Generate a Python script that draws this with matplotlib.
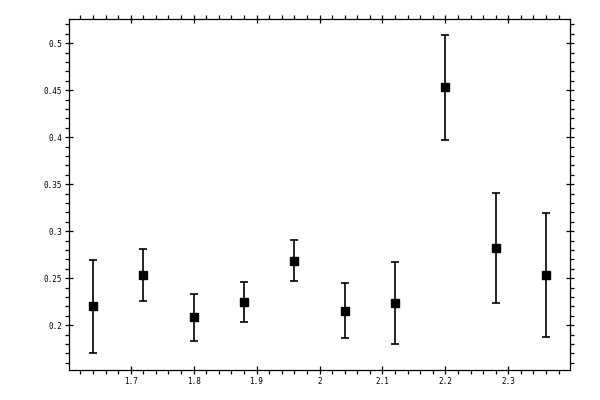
import matplotlib
matplotlib.use("Agg")
import matplotlib.pyplot as plt
from matplotlib.ticker import MultipleLocator, FuncFormatter
import numpy as np

x = [1.64, 1.72, 1.80, 1.88, 1.96, 2.04, 2.12, 2.20, 2.28, 2.36]
y = [0.220, 0.253, 0.2085, 0.2245, 0.268, 0.215, 0.2235, 0.4532, 0.282, 0.253]
y_low = [0.170, 0.2255, 0.1833, 0.2035, 0.2468, 0.1862, 0.1798, 0.3968, 0.2234, 0.1872]
y_high = [0.269, 0.2815, 0.233, 0.2457, 0.2904, 0.2447, 0.267, 0.5085, 0.3404, 0.3191]

y_arr = np.array(y)
yerr = [y_arr - np.array(y_low), np.array(y_high) - y_arr]

fig = plt.figure(figsize=(6, 4), dpi=100)
ax = fig.add_axes([0.115, 0.075, 0.835, 0.877])

ax.errorbar(x, y, yerr=yerr, fmt='s', color='black', markersize=5.5,
            ecolor='black', elinewidth=1.2, capsize=3.0, capthick=1.2)

ax.set_xlim(1.602, 2.398)
ax.set_ylim(0.1524, 0.5255)

ax.xaxis.set_major_locator(MultipleLocator(0.1))
ax.xaxis.set_minor_locator(MultipleLocator(0.02))
ax.yaxis.set_major_locator(MultipleLocator(0.05))
ax.yaxis.set_minor_locator(MultipleLocator(0.01))

def fmt(v, pos):
    s = ('%.2f' % v).rstrip('0').rstrip('.')
    return s

ax.xaxis.set_major_formatter(FuncFormatter(fmt))
ax.yaxis.set_major_formatter(FuncFormatter(fmt))

ax.tick_params(which='major', direction='inout', length=5.8, width=0.9,
               top=True, right=True, labelsize=5.5, pad=2)
ax.tick_params(which='minor', direction='out', length=2.9, width=0.9,
               top=True, right=True)
for lab in ax.get_xticklabels() + ax.get_yticklabels():
    lab.set_family('DejaVu Sans Mono')

for s in ax.spines.values():
    s.set_linewidth(0.9)

fig.savefig('out.png', dpi=100)
